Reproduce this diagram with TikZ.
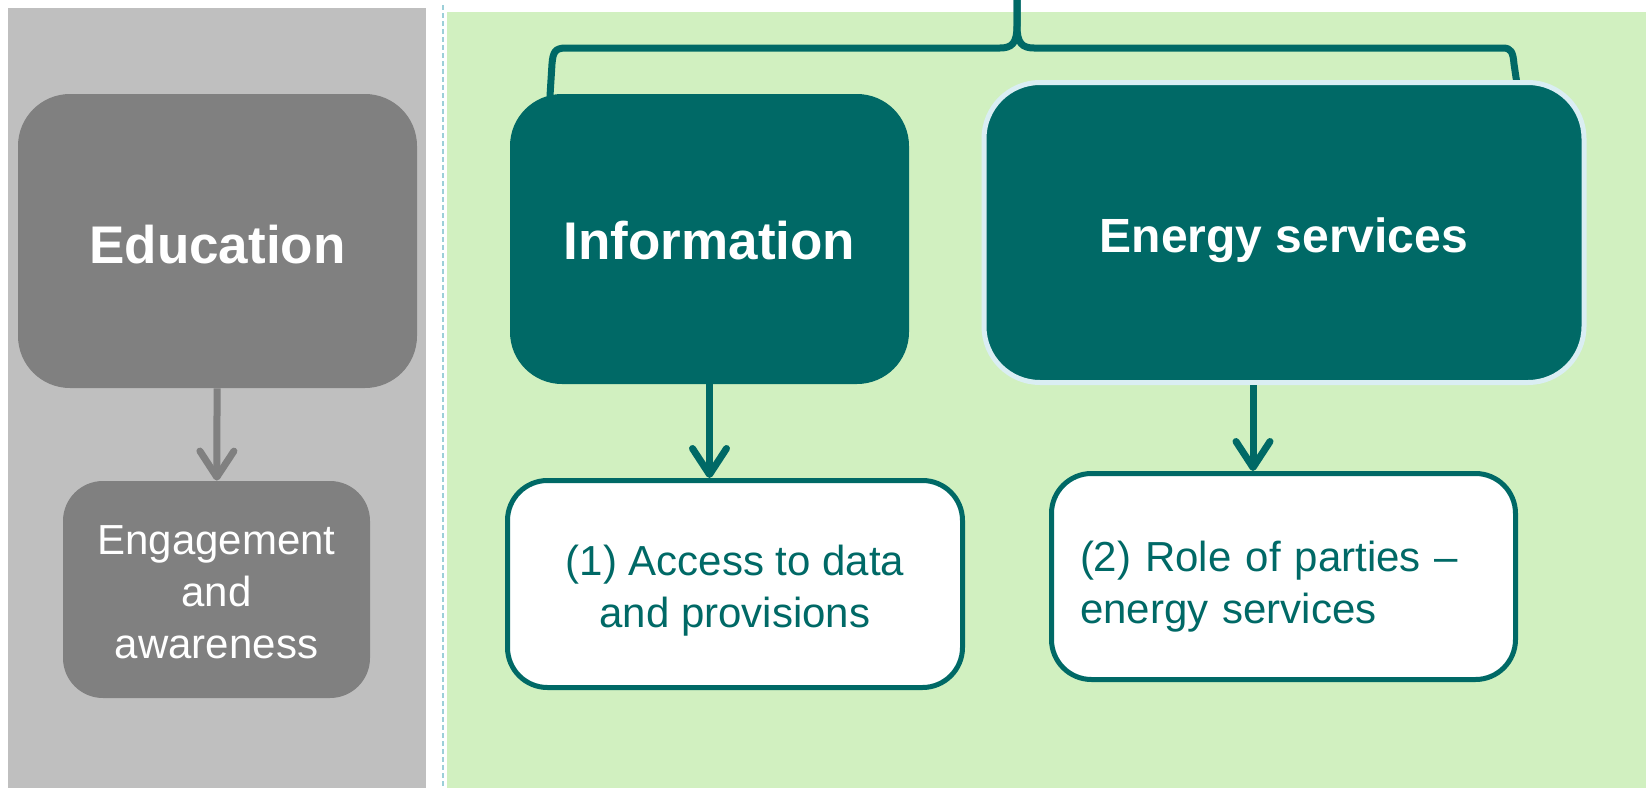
\documentclass[tikz,border=0pt]{standalone}
\usepackage{fontspec}
\setmainfont{Liberation Sans}
\usepackage{tikz}
\usetikzlibrary{shapes,arrows.meta,positioning}
\definecolor{petrol}{HTML}{006966}
\definecolor{panelgray}{HTML}{BFBFBF}
\definecolor{boxgray}{HTML}{808080}
\definecolor{panelgreen}{HTML}{D1F0C0}
\definecolor{edgeblue}{HTML}{DAEEF3}
\definecolor{dashblue}{HTML}{9CCFD8}
\tikzstyle{headbox} = [rectangle, rounded corners=26pt, text=white, text depth=0pt,
    font=\fontsize{26.5}{32}\selectfont\bfseries]
\tikzstyle{subbox} = [rectangle, rounded corners=20pt,
    font=\fontsize{21}{26}\selectfont]
\tikzstyle{link} = [-{Straight Barb[length=13pt,width=17pt,round]}, line width=3.5pt]

\begin{document}
\begin{tikzpicture}[x=0.5pt, y=-0.5pt]
  \useasboundingbox (0,0) rectangle (1646,788);
  % panels
  \fill [panelgray] (8,8) rectangle (426,788);
  \fill [panelgreen] (447,12) rectangle (1646,788);
  \draw [dashblue, line width=1.3pt, dash pattern=on 2.5pt off 1.5pt] (443,5) -- (443,788);
  % brace over the two green boxes
  \coordinate (stem) at (1017,0);
  \draw [petrol, line width=3.5pt, line join=round] (stem) -- (1017,26)
    .. controls (1017,43) and (1012,48) .. (1000,48) -- (566,48)
    .. controls (555,48) and (553,52) .. (552,64) -- (550,96);
  \draw [petrol, line width=3.5pt, line join=round] (stem) -- (1017,26)
    .. controls (1017,43) and (1022,48) .. (1034,48) -- (1503,48)
    .. controls (1511,48) and (1513,52) .. (1514,64) -- (1517,84);
  % boxes
  \node [headbox, fill=boxgray, text height=22.5pt, minimum width=199.5pt, minimum height=147pt] (educ) at (217.5,241) {Education};
  \node [subbox, fill=boxgray, text=white, align=center, minimum width=153.5pt, minimum height=108.5pt] (engage) at (216.5,589.5) {\rule{0pt}{17pt}Engagement\\and\\awareness};
  \node [headbox, fill=petrol, text height=20.3pt, minimum width=199.5pt, minimum height=145pt] (info) at (709.5,239) {Information};
  \node [headbox, fill=petrol, draw=edgeblue, line width=2.5pt, rounded corners=28pt, minimum width=300pt, minimum height=150pt,
    font=\fontsize{24}{29}\selectfont\bfseries, text height=19.9pt] (energy) at (1284,232.5) {Energy services};
  \node [subbox, fill=white, draw=petrol, line width=2.5pt, text=petrol, align=center, minimum width=227.5pt, minimum height=103.5pt] (access) at (735,584) {\rule{0pt}{21.5pt}(1) Access to data\\and provisions};
  \node [subbox, fill=white, draw=petrol, line width=2.5pt, text=petrol, align=left, text width=203.5pt, minimum width=232pt, minimum height=103pt] (role) at (1283.5,576.5) {\rule{0pt}{25.5pt}(2) Role of parties --\\energy services};
  % arrows
  \draw [link, boxgray] (educ) -- (engage);
  \draw [link, petrol] (info.south) -- (info.south |- access.north);
  \coordinate (es) at ([xshift=-15.5pt]energy.south);
  \draw [link, petrol] (es) -- (es |- role.north);
\end{tikzpicture}
\end{document}
